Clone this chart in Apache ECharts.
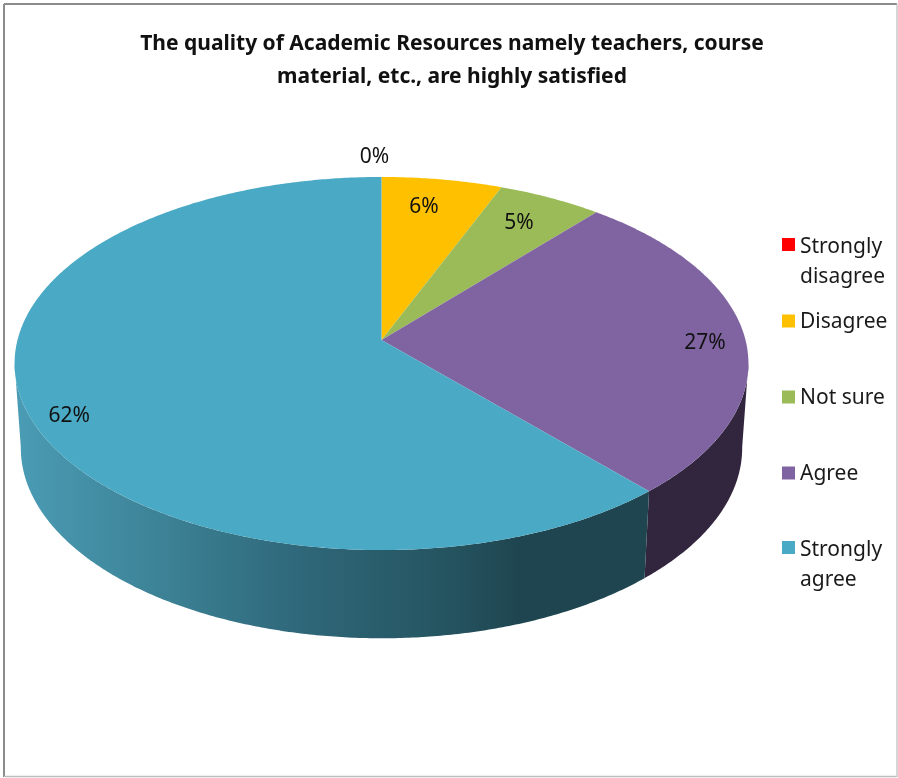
<!DOCTYPE html>
<html><head><meta charset="utf-8">
<style>html,body{margin:0;padding:0;background:#fff}#c{width:898px;height:778px}</style>
<script src="https://cdn.jsdelivr.net/npm/echarts@6/dist/echarts.min.js"></script>
</head><body><div id="c"></div>
<script>
const categories = ['Strongly disagree','Disagree','Not sure','Agree','Strongly agree'];
const values = [0, 6, 5.2, 27.2, 61.6];
const labels = ['0%','6%','5%','27%','62%'];
const colors = ['#FF0000','#FFC000','#9BBB59','#8064A2','#4AA9C5'];
const labelRadius = [1.135,0.8,0.82,0.89,0.88];
const labelNudge = [[-7,2],[-6,-5],[-1,0],[0,5],[1,16]];
const legendTop = [232,307,383,459,535];
const total = values.reduce((a,b)=>a+b,0);
const F = 'Noto Sans';
const T = 2*Math.PI;
const cx=381.5, cy=340, A=364, B=183.6, k=0.126;
const sideScaleX=0.983, sideScaleY=1.02, sideDrop=84;
const frontFrom=97/360, frontTo=263/360;

function rim(f,r){ const a=f*T, w=1+k*Math.cos(a);
  return [cx+r*A*Math.sin(a)/w, cy-r*B*Math.cos(a)/w]; }
function low(p){ return [cx+(p[0]-cx)*sideScaleX, cy+(p[1]-cy)*sideScaleY+sideDrop]; }
function arc(f0,f1){ const pts=[], n=Math.max(2,Math.ceil((f1-f0)*720));
  for(let i=0;i<=n;i++) pts.push(rim(f0+(f1-f0)*i/n,1)); return pts; }

const tealSide = new echarts.graphic.LinearGradient(20,0,650,0,[
 {offset:0,color:'#4A9BB4'},{offset:0.2,color:'#3E8599'},{offset:0.44,color:'#2F687A'},
 {offset:0.68,color:'#255460'},{offset:0.79,color:'#1F4650'},{offset:1,color:'#1F4650'}],true);
const sideFill = {'Agree':'#32263F','Strongly agree':tealSide};

function renderer(i){ return function(){
  const start=values.slice(0,i).reduce((a,b)=>a+b,0)/total;
  const end=start+values[i]/total, mid=(start+end)/2;
  const children=[];
  const sf=Math.max(start,frontFrom), se=Math.min(end,frontTo);
  if(se>sf){ const t=arc(sf,se);
    children.push({type:'polygon',z2:1,shape:{points:t.concat(t.map(low).reverse())},
      style:{fill:sideFill[categories[i]]||colors[i]}}); }
  if(end>start){ children.push({type:'polygon',z2:2,shape:{points:[[cx,cy]].concat(arc(start,end))},
      style:{fill:colors[i]}}); }
  const lp=rim(mid,labelRadius[i]);
  children.push({type:'text',z2:3,x:lp[0]+labelNudge[i][0],y:lp[1]+labelNudge[i][1],
    style:{text:labels[i],fill:'#111',font:'21px "'+F+'"',align:'center',verticalAlign:'middle'}});
  return {type:'group',children};
};}

const series=categories.map((c,i)=>({type:'custom',name:c,coordinateSystem:'none',
  data:[[values[i]]],renderItem:renderer(i),itemStyle:{color:colors[i]},silent:true,animation:false}));

const two='path://M0 6H13V19H0Z M0 0L0 0 M0 60L0 60';
const legends=categories.map((c,i)=>{ const w=c.startsWith('Strongly');
  return {data:[c],orient:'vertical',left:782,top:legendTop[i],padding:0,itemGap:0,
    itemWidth:13,itemHeight:w?60:30,icon:w?two:'path://M0 7.5H13V20.5H0Z M0 0L0 0 M0 30L0 30',selectedMode:false,
    formatter:n=>n.replace('Strongly ','Strongly\n'),
    textStyle:{fontFamily:F,fontSize:21,lineHeight:30,color:'#1a1a1a'}};});

const chart=echarts.init(document.getElementById('c'),null,{renderer:'canvas'});
chart.setOption({animation:false,backgroundColor:'#fff',
 title:{text:'The quality of Academic Resources namely teachers, course\nmaterial, etc., are highly satisfied',
   left:447,top:23,textAlign:'center',
   textStyle:{fontFamily:F,fontSize:21,fontWeight:'bold',lineHeight:33,color:'#111'}},
 legend:legends,series,
 graphic:[
  {type:'line',silent:true,shape:{x1:4,y1:4,x2:897,y2:4},style:{stroke:'#8c8c8c',lineWidth:2}},
  {type:'line',silent:true,shape:{x1:4,y1:4,x2:4,y2:777},style:{stroke:'#8c8c8c',lineWidth:2}},
  {type:'line',silent:true,shape:{x1:4,y1:776.5,x2:897,y2:776.5},style:{stroke:'#bdbdbd',lineWidth:1.5}},
  {type:'line',silent:true,shape:{x1:897,y1:4,x2:897,y2:777},style:{stroke:'#c8c8c8',lineWidth:1.5}}
 ]});
</script></body></html>
